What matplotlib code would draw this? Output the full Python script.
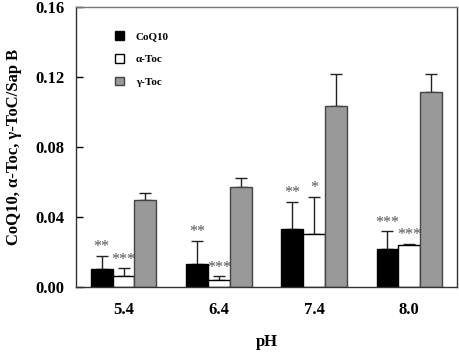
import numpy as np
import matplotlib
matplotlib.use("Agg")
import matplotlib.pyplot as plt

plt.rcParams['font.family'] = ['Liberation Serif', 'DejaVu Serif']
plt.rcParams['font.weight'] = 'bold'

# 데이터
ph_labels = ["5.4", "6.4", "7.4", "8.0"]
series_names = ["CoQ10", "α-Toc", "γ-Toc"]
coq10 = [0.0103, 0.0133, 0.0331, 0.0217]
coq10_err = [0.0074, 0.0130, 0.0156, 0.0101]
atoc = [0.0063, 0.0040, 0.0301, 0.0240]
atoc_err = [0.0044, 0.0021, 0.0215, 0.0006]
gtoc = [0.0495, 0.0573, 0.1034, 0.1112]
gtoc_err = [0.0040, 0.0046, 0.0179, 0.0101]
coq10_sig = ["**", "**", "**", "***"]
atoc_sig = ["***", "***", "*", "***"]
gtoc_sig = ["", "", "", ""]

fig = plt.figure(figsize=(4.6, 3.52), dpi=100)
ax = fig.add_axes([0.165, 0.1847, 0.8285, 0.7968])

x = np.arange(len(ph_labels))
w = 0.23
styles = [dict(color="black", edgecolor="black"),
          dict(color="white", edgecolor="black"),
          dict(color="#999999", edgecolor="#444444")]
vals = [coq10, atoc, gtoc]
errs = [coq10_err, atoc_err, gtoc_err]
sigs = [coq10_sig, atoc_sig, gtoc_sig]
for i, (v, e, s, st) in enumerate(zip(vals, errs, sigs, styles)):
    xs = x + (i - 1) * w
    ax.bar(xs, v, w, linewidth=1.0, label=series_names[i], zorder=2, **st)
    ax.errorbar(xs, v, yerr=[np.zeros(len(v)), e], fmt="none", ecolor="#222222",
                elinewidth=1.0, capsize=4.3, capthick=1.0, zorder=1)
    for xi, vi, ei, si in zip(xs, v, e, s):
        if si:
            ax.annotate(si, (xi, vi + ei), xytext=(0, 0.5), textcoords="offset points",
                        ha="center", va="bottom", fontsize=11.5, color="#555555",
                        fontweight="normal")

ax.set_xlim(-0.5, 3.5)
ax.set_ylim(0, 0.16)
ax.set_yticks([0, 0.04, 0.08, 0.12, 0.16])
ax.set_yticklabels(["0.00", "0.04", "0.08", "0.12", "0.16"])
ax.set_xticks(x)
ax.set_xticklabels(ph_labels)
ax.tick_params(axis="y", direction="in", length=5, width=1, pad=8, labelsize=12)
ax.tick_params(axis="x", length=0, pad=11, labelsize=12)
for sp in ax.spines.values():
    sp.set_linewidth(1.0)
    sp.set_color("#333333")
ax.spines["top"].set_color("#777777")

ax.set_xlabel("pH", fontsize=12, fontweight="bold", labelpad=11)
ax.set_ylabel("CoQ10, α-Toc, γ-ToC/Sap B", fontsize=12, fontweight="bold", labelpad=10)

ax.legend(loc="upper left", bbox_to_anchor=(0.102, 0.912), frameon=False, fontsize=8,
          handlelength=0.8, handleheight=0.8, handletextpad=1.1, labelspacing=1.15,
          borderpad=0, borderaxespad=0)

fig.savefig("out.png", dpi=100)
